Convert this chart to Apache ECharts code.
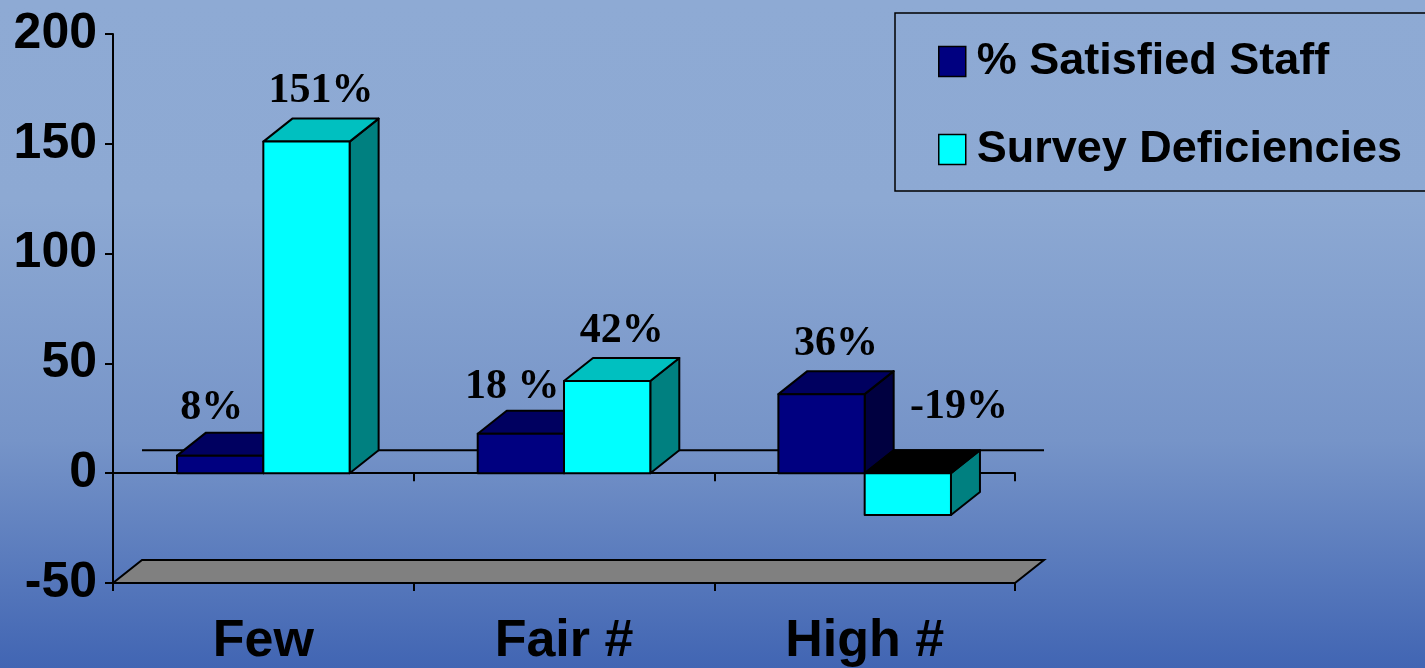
<!DOCTYPE html>
<html>
<head>
<meta charset="utf-8">
<script src="https://cdn.jsdelivr.net/npm/echarts@6/dist/echarts.min.js"></script>
<style>
  html, body { margin: 0; padding: 0; width: 1425px; height: 668px; overflow: hidden; }
  #chart { width: 1425px; height: 668px; }
</style>
</head>
<body>
<div id="chart"></div>
<script>
// ---- data ----
const categories = ['Few', 'Fair #', 'High #'];
const seriesNames = ['% Satisfied Staff', 'Survey Deficiencies'];
const satisfied = [8, 18, 36];
const deficiencies = [151, 42, -19];
const satisfiedLabels = ['8%', '18 %', '36%'];
const deficiencyLabels = ['151%', '42%', '-19%'];
const yTicks = { min: -50, max: 200, interval: 50 };

// ---- style ----
const DX = 29, DY = 23;
const BAR_FRAC = 0.287;
const faceColors = [
  { front: '#000080', top: '#000060', side: '#000040' },
  { front: '#00FFFF', top: '#00C0C0', side: '#008080' }
];
const allValues = [satisfied, deficiencies];
const allLabels = [satisfiedLabels, deficiencyLabels];
const LABEL_FONT = 'bold 42px "Liberation Serif", "Times New Roman", serif';

function makeRender(s) {
  return function (params, api) {
    const ci = api.value(0);
    const v = api.value(1);
    const base = api.coord([ci, 0]);
    const top = api.coord([ci, v]);
    const band = api.size([1, 0])[0];
    const bw = band * BAR_FRAC;
    const x0 = base[0] - bw + s * bw;
    const x1 = x0 + bw;
    const yTop = Math.min(base[1], top[1]);
    const yBot = Math.max(base[1], top[1]);
    const c = faceColors[s];
    const stroke = { stroke: '#000', lineWidth: 2, lineJoin: 'round' };
    const topFill = v < 0 ? '#000000' : c.top;
    const children = [
      { type: 'polygon', shape: { points: [[x1, yTop], [x1 + DX, yTop - DY], [x1 + DX, yBot - DY], [x1, yBot]] },
        style: Object.assign({ fill: c.side }, stroke) },
      { type: 'polygon', shape: { points: [[x0, yTop], [x1, yTop], [x1 + DX, yTop - DY], [x0 + DX, yTop - DY]] },
        style: Object.assign({ fill: topFill }, stroke) },
      { type: 'rect', shape: { x: x0, y: yTop, width: bw, height: yBot - yTop },
        style: Object.assign({ fill: c.front }, stroke) }
    ];
    // label
    const idx = params.dataIndex;
    let lx, ly;
    if (v < 0) {
      lx = x1 + 8;
      ly = yTop - DY - 43;
    } else {
      lx = (x0 + x1) / 2 + DX / 2;
      ly = yTop - DY - 27;
      if (s === 0) {
        const other = allValues[1][idx];
        if (other > v) { lx -= 23; ly += 3; }
      }
    }
    children.push({
      type: 'text', z2: 10,
      style: { text: allLabels[s][idx], x: lx, y: ly, font: LABEL_FONT, fill: '#000',
               align: 'center', verticalAlign: 'middle' }
    });
    return { type: 'group', children: children };
  };
}

function renderFrame(params, api) {
  const cs = params.coordSys;
  const yb = cs.y + cs.height;
  const y0 = api.coord([0, 0])[1];
  return {
    type: 'group',
    children: [
      { type: 'polygon',
        shape: { points: [[cs.x, yb], [cs.x + cs.width, yb], [cs.x + cs.width + DX, yb - DY], [cs.x + DX, yb - DY]] },
        style: { fill: '#808080', stroke: '#000', lineWidth: 2 } },
      { type: 'line',
        shape: { x1: cs.x + DX, y1: y0 - DY, x2: cs.x + cs.width + DX, y2: y0 - DY },
        style: { stroke: '#000', lineWidth: 2 } }
    ]
  };
}

const chart = echarts.init(document.getElementById('chart'));
const axisLineStyle = { color: '#000', width: 2 };
chart.setOption({
  animation: false,
  backgroundColor: {
    type: 'linear', x: 0, y: 0, x2: 0, y2: 1,
    colorStops: [
      { offset: 0, color: '#8EAAD4' },
      { offset: 0.3, color: '#8DA9D3' },
      { offset: 0.66, color: '#7694C8' },
      { offset: 1, color: '#4165B3' }
    ]
  },
  grid: { left: 113, top: 34, width: 902, height: 550, containLabel: false },
  legend: {
    orient: 'vertical', left: 895, top: 13,
    padding: [26, 40, 19, 43],
    itemWidth: 27, itemHeight: 30, itemGap: 43,
    borderColor: '#000', borderWidth: 1.5,
    icon: 'rect',
    itemStyle: { borderColor: '#000', borderWidth: 1.5 },
    textStyle: { fontSize: 45, fontWeight: 'bold', fontFamily: '"Liberation Sans", Arial, sans-serif',
                 color: '#000', lineHeight: 40, padding: [0, 0, 0, 6] },
    data: seriesNames
  },
  xAxis: [
    {
      type: 'category', data: categories, position: 'bottom',
      axisLine: { onZero: false, lineStyle: axisLineStyle },
      axisTick: { show: true, length: 8, lineStyle: axisLineStyle },
      axisLabel: { fontSize: 52, fontWeight: 'bold', color: '#000', margin: 33,
                   fontFamily: '"Liberation Sans", Arial, sans-serif' },
      splitLine: { show: false }
    },
    {
      type: 'category', data: categories, position: 'bottom',
      axisLine: { onZero: true, lineStyle: axisLineStyle },
      axisTick: { show: true, length: 8, lineStyle: axisLineStyle },
      axisLabel: { show: false },
      splitLine: { show: false }
    }
  ],
  yAxis: {
    type: 'value', min: yTicks.min, max: yTicks.max, interval: yTicks.interval,
    axisLine: { show: true, lineStyle: axisLineStyle },
    axisTick: { show: true, length: 8, lineStyle: axisLineStyle },
    axisLabel: { fontSize: 50, fontWeight: 'bold', color: '#000', margin: 16,
                 fontFamily: '"Liberation Sans", Arial, sans-serif' },
    splitLine: { show: false }
  },
  series: [
    {
      type: 'custom', name: 'frame', z: 1, silent: true,
      xAxisIndex: 0, yAxisIndex: 0,
      renderItem: renderFrame,
      data: [[0, 0]]
    },
    {
      type: 'custom', name: seriesNames[0], z: 3,
      xAxisIndex: 0, yAxisIndex: 0,
      itemStyle: { color: faceColors[0].front },
      renderItem: makeRender(0),
      encode: { x: 0, y: 1 },
      data: categories.map((c, i) => [i, satisfied[i]])
    },
    {
      type: 'custom', name: seriesNames[1], z: 4,
      xAxisIndex: 0, yAxisIndex: 0,
      itemStyle: { color: faceColors[1].front },
      renderItem: makeRender(1),
      encode: { x: 0, y: 1 },
      data: categories.map((c, i) => [i, deficiencies[i]])
    }
  ]
});
</script>
</body>
</html>
